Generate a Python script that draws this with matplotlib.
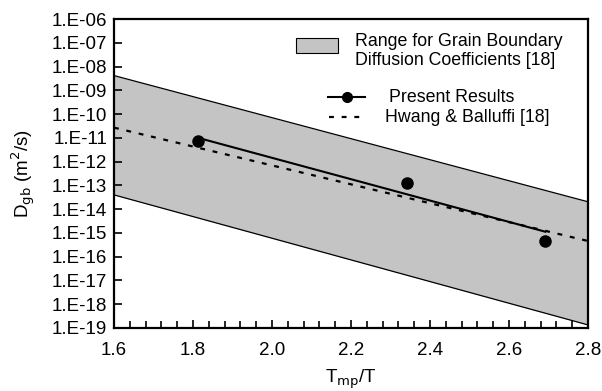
import numpy as np
import matplotlib.pyplot as plt
from matplotlib.patches import Rectangle
from matplotlib.lines import Line2D
from matplotlib.ticker import FuncFormatter, MultipleLocator

plt.rcParams['font.family'] = ['Liberation Sans', 'DejaVu Sans']

# band limits (log10 D) at the ends of the x range
band_x = [1.6, 2.8]
band_upper = [-8.38, -13.69]
band_lower = [-13.40, -18.87]

# Hwang & Balluffi line
hb_x = [1.6, 2.8]
hb_logd = [-10.57, -15.34]

# present results
pts_x = [1.813, 2.343, 2.692]
pts_logd = [-11.15, -12.91, -15.33]
fit_x = [1.813, 2.692]
fit_logd = [-11.0, -14.95]

fig = plt.figure(figsize=(6.02, 3.91), dpi=100)
ax = fig.add_axes([114/602, 1-328/391, 474/602, 309/391])

bx = np.array(band_x)
up = 10.0**np.array(band_upper)
lo = 10.0**np.array(band_lower)
ax.fill_between(bx, lo, up, color='#c4c4c4', lw=0)
ax.plot(bx, up, color='black', lw=0.9)
ax.plot(bx, lo, color='black', lw=0.9)

ax.plot(hb_x, 10.0**np.array(hb_logd), color='black', lw=1.6, ls=(0, (2.2, 3.5)))
ax.plot(fit_x, 10.0**np.array(fit_logd), color='black', lw=1.5)
ax.plot(pts_x, 10.0**np.array(pts_logd), 'o', color='black', ms=8, ls='none')

ax.set_yscale('log')
ax.set_xlim(1.6, 2.8)
ax.set_ylim(1e-19, 1e-6)
ax.set_yticks([10.0**k for k in range(-19, -5)])
ax.yaxis.set_minor_locator(plt.NullLocator())
ax.yaxis.set_major_formatter(FuncFormatter(lambda v, p: "1.E%03d" % int(round(np.log10(v)))))
ax.xaxis.set_major_locator(MultipleLocator(0.2))
ax.xaxis.set_minor_locator(MultipleLocator(0.04))
ax.xaxis.set_major_formatter(FuncFormatter(lambda v, p: "%.1f" % v))

ax.tick_params(axis='both', which='both', direction='in', width=1.2, labelsize=13.5)
ax.tick_params(axis='y', length=6, pad=5)
ax.tick_params(axis='x', which='major', length=6, pad=10)
ax.tick_params(axis='x', which='minor', length=5)
for s in ax.spines.values():
    s.set_linewidth(1.6)

ax.set_xlabel(r'T$_{\mathrm{mp}}$/T', fontsize=13.5, labelpad=6)
ax.set_ylabel(r'D$_{\mathrm{gb}}$ (m$^2$/s)', fontsize=13.5, labelpad=10)

# legend drawn by hand
def px(x, y):
    return ((x - 114) / 474, (328 - y) / 309)

x0, y0 = px(296, 53)
x1, y1 = px(338, 38)
ax.add_patch(Rectangle((x0, y0), x1 - x0, y1 - y0, transform=ax.transAxes,
                       facecolor='#c4c4c4', edgecolor='black', lw=0.8))
tx, ty = px(355, 51)
ax.text(tx, ty, 'Range for Grain Boundary\nDiffusion Coefficients [18]', transform=ax.transAxes,
        fontsize=12.8, va='center', ha='left', linespacing=1.2)
a, ly = px(328, 97)
b, _ = px(365, 97)
ax.add_line(Line2D([a, b], [ly, ly], transform=ax.transAxes, color='black', lw=1.5))
ax.add_line(Line2D([(a + b) / 2], [ly], transform=ax.transAxes, marker='o', color='black', ms=7))
tx, _ = px(389, 97)
ax.text(tx, ly, 'Present Results', transform=ax.transAxes, fontsize=12.8, va='center')
a, ly = px(329, 117)
b, _ = px(362, 117)
ax.add_line(Line2D([a, b], [ly, ly], transform=ax.transAxes, color='black', lw=1.6, ls=(0, (2.2, 3.5))))
tx, _ = px(385, 117)
ax.text(tx, ly, 'Hwang & Balluffi [18]', transform=ax.transAxes, fontsize=12.8, va='center')

fig.savefig('out.png', dpi=100)
